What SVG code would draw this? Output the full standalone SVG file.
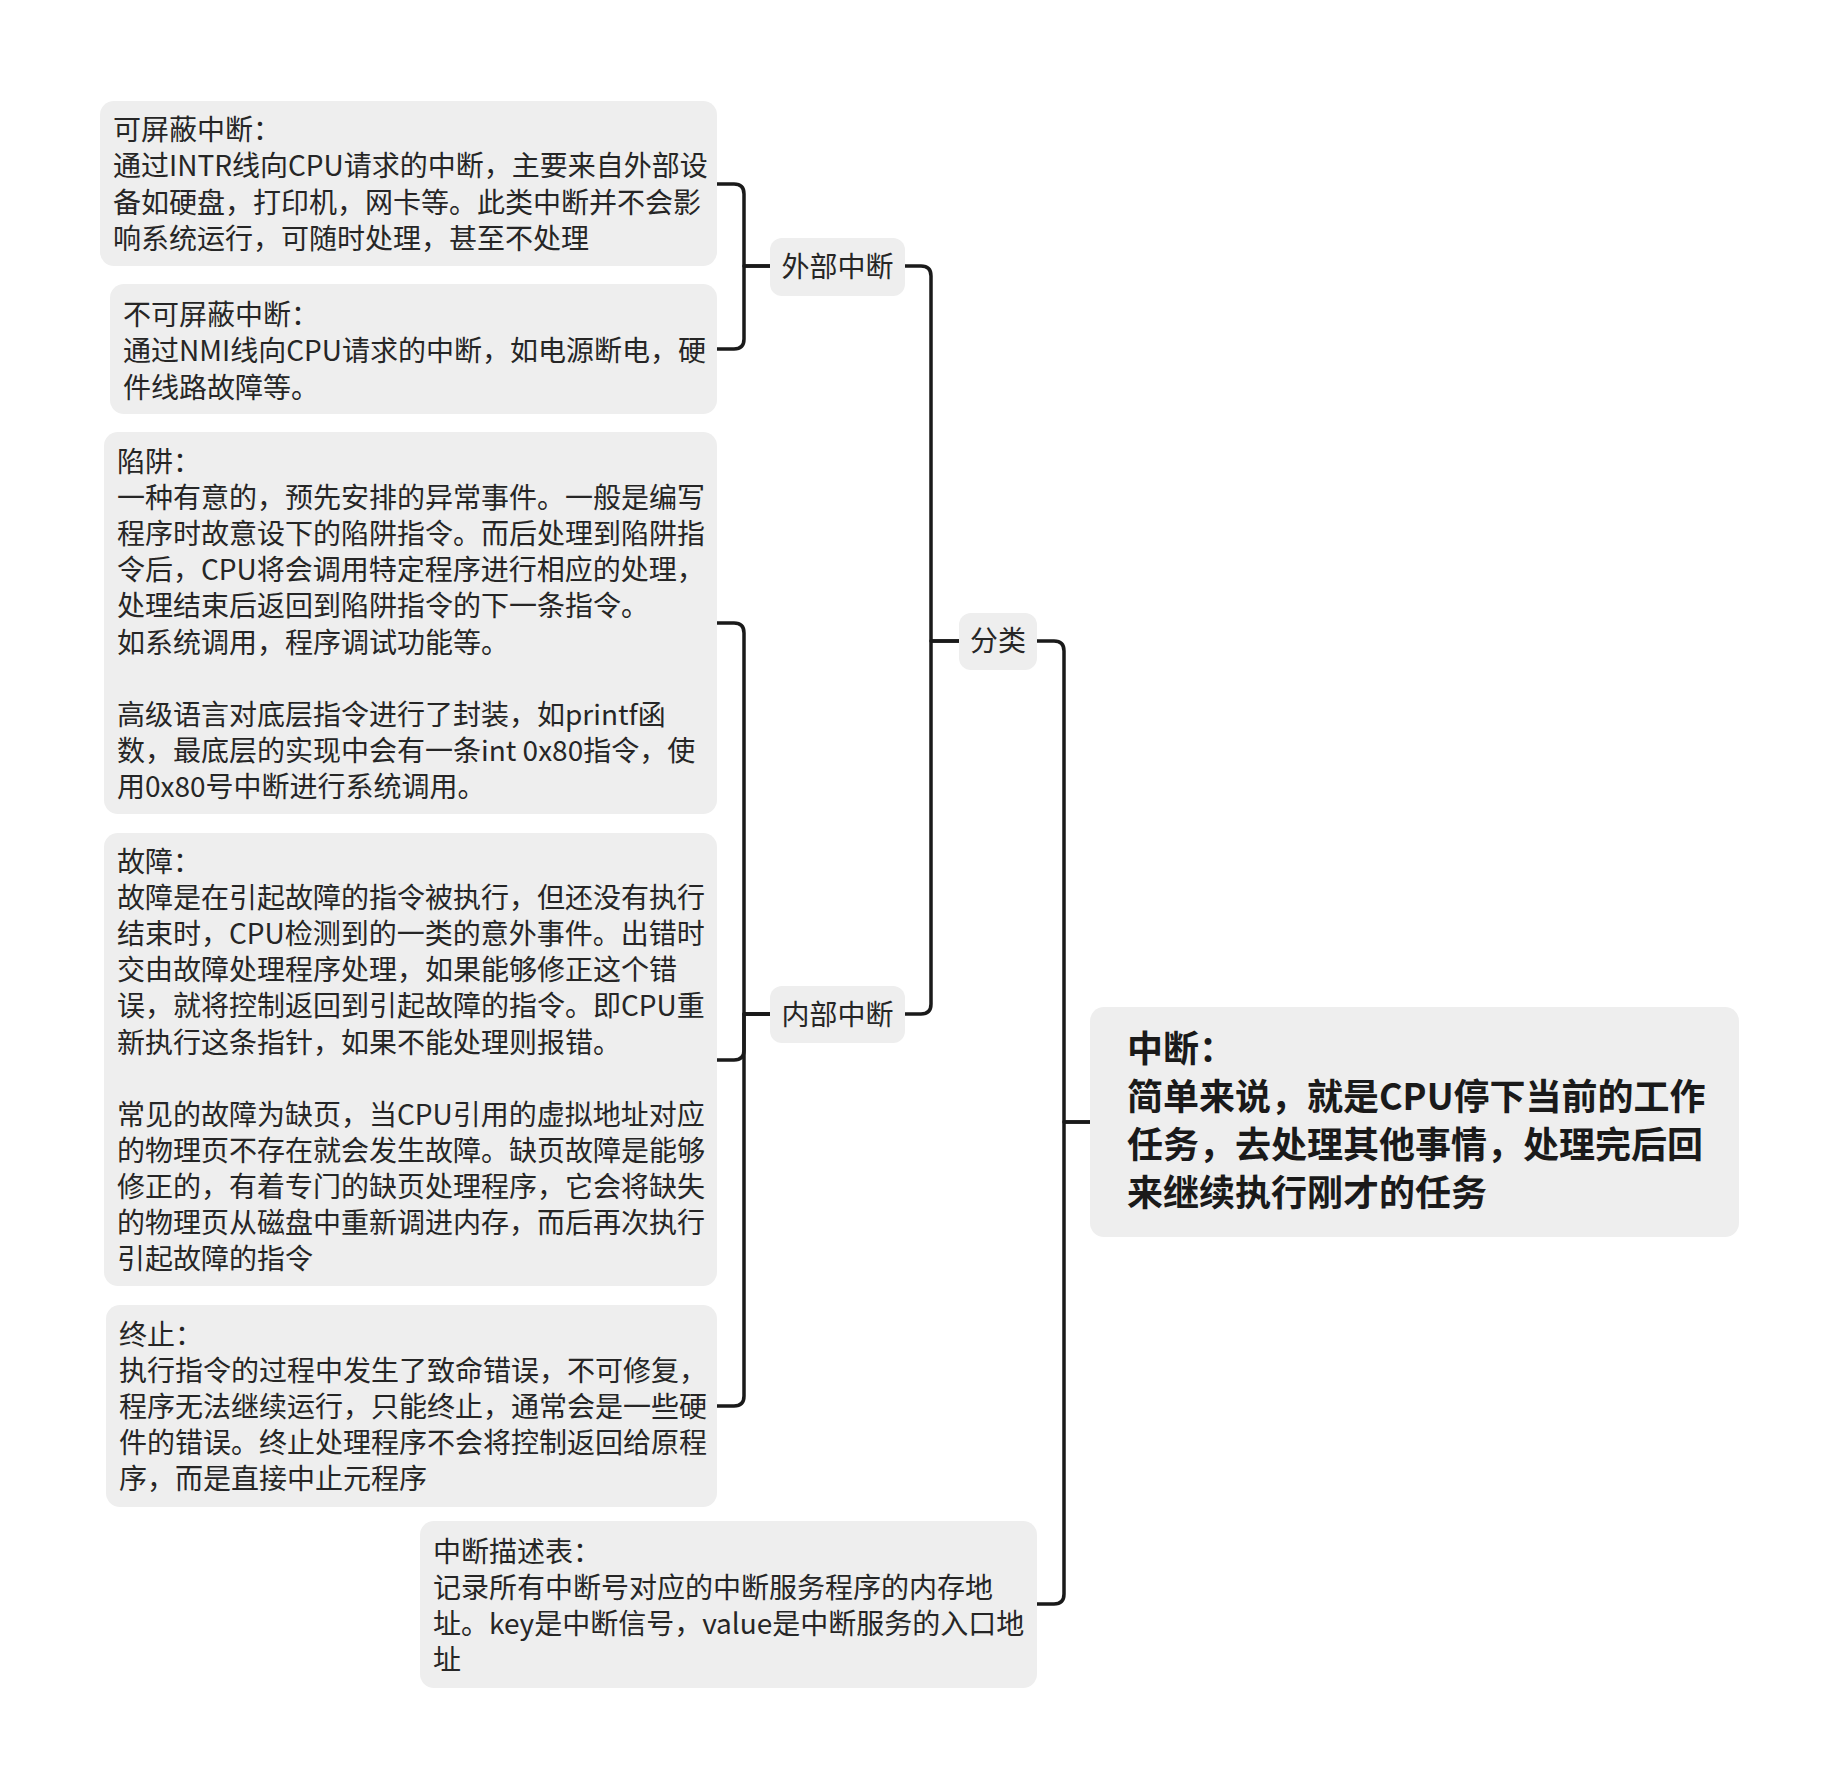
<svg xmlns="http://www.w3.org/2000/svg" width="1840" height="1788" viewBox="0 0 1840 1788">
<style>
.box{fill:#eeeeee;}
.t{font-family:"Noto Sans CJK SC","Noto Sans",sans-serif;font-size:28px;fill:#262626;}
.root{font-family:"Noto Sans CJK SC","Noto Sans",sans-serif;font-size:36px;font-weight:bold;fill:#1a1a1a;}
.c{fill:none;stroke:#1a1a1a;stroke-width:3.5;stroke-linecap:round;stroke-linejoin:round;}
</style>
<rect width="1840" height="1788" fill="#ffffff"/>
<g id="connectors">
<path class="c" d="M1090 1122 H1064 V651 Q1064 641 1054 641 H1037"/>
<path class="c" d="M1090 1122 H1064 V1594 Q1064 1604 1054 1604 H1037"/>
<path class="c" d="M959 641 H931 V276 Q931 266 921 266 H905"/>
<path class="c" d="M959 641 H931 V1004 Q931 1014 921 1014 H905"/>
<path class="c" d="M770 266 H744 V194 Q744 184 734 184 H717"/>
<path class="c" d="M770 266 H744 V339 Q744 349 734 349 H717"/>
<path class="c" d="M770 1014 H744 V633 Q744 623 734 623 H717"/>
<path class="c" d="M770 1014 H744 V1050 Q744 1060 734 1060 H717"/>
<path class="c" d="M770 1014 H744 V1396 Q744 1406 734 1406 H717"/>
</g>
<g id="root">
<rect class="box" x="1090" y="1007" width="649" height="230" rx="14"/>
<text class="root" x="1127"><tspan x="1127" y="1062">中断：</tspan><tspan x="1127" y="1110">简单来说，就是CPU停下当前的工作</tspan><tspan x="1127" y="1158">任务，去处理其他事情，处理完后回</tspan><tspan x="1127" y="1206">来继续执行刚才的任务</tspan></text>
</g>
<g id="fenlei">
<rect class="box" x="959" y="613" width="78" height="57" rx="12"/>
<text class="t" x="998" y="651" text-anchor="middle">分类</text>
</g>
<g id="waibu">
<rect class="box" x="770" y="238" width="135" height="58" rx="12"/>
<text class="t" x="837.5" y="277" text-anchor="middle">外部中断</text>
</g>
<g id="neibu">
<rect class="box" x="770" y="986" width="135" height="57" rx="12"/>
<text class="t" x="837.5" y="1025" text-anchor="middle">内部中断</text>
</g>
<g id="kepingbi">
<rect class="box" x="100" y="101" width="617" height="165" rx="14"/>
<text class="t"><tspan x="113" y="140">可屏蔽中断：</tspan><tspan x="113" y="176.3">通过INTR线向CPU请求的中断，主要来自外部设</tspan><tspan x="113" y="212.6">备如硬盘，打印机，网卡等。此类中断并不会影</tspan><tspan x="113" y="248.9">响系统运行，可随时处理，甚至不处理</tspan></text>
</g>
<g id="bukepingbi">
<rect class="box" x="110" y="284" width="607" height="130" rx="14"/>
<text class="t"><tspan x="123" y="325">不可屏蔽中断：</tspan><tspan x="123" y="361.3">通过NMI线向CPU请求的中断，如电源断电，硬</tspan><tspan x="123" y="397.6">件线路故障等。</tspan></text>
</g>
<g id="xianjing">
<rect class="box" x="104" y="432" width="613" height="382" rx="14"/>
<text class="t"><tspan x="117" y="472">陷阱：</tspan><tspan x="117" y="508.1">一种有意的，预先安排的异常事件。一般是编写</tspan><tspan x="117" y="544.2">程序时故意设下的陷阱指令。而后处理到陷阱指</tspan><tspan x="117" y="580.3">令后，CPU将会调用特定程序进行相应的处理，</tspan><tspan x="117" y="616.4">处理结束后返回到陷阱指令的下一条指令。</tspan><tspan x="117" y="652.5">如系统调用，程序调试功能等。</tspan><tspan x="117" y="724.7">高级语言对底层指令进行了封装，如printf函</tspan><tspan x="117" y="760.8">数，最底层的实现中会有一条int 0x80指令，使</tspan><tspan x="117" y="796.9">用0x80号中断进行系统调用。</tspan></text>
</g>
<g id="guzhang">
<rect class="box" x="104" y="833" width="613" height="453" rx="14"/>
<text class="t"><tspan x="117" y="872">故障：</tspan><tspan x="117" y="908.1">故障是在引起故障的指令被执行，但还没有执行</tspan><tspan x="117" y="944.2">结束时，CPU检测到的一类的意外事件。出错时</tspan><tspan x="117" y="980.3">交由故障处理程序处理，如果能够修正这个错</tspan><tspan x="117" y="1016.4">误，就将控制返回到引起故障的指令。即CPU重</tspan><tspan x="117" y="1052.5">新执行这条指针，如果不能处理则报错。</tspan><tspan x="117" y="1124.7">常见的故障为缺页，当CPU引用的虚拟地址对应</tspan><tspan x="117" y="1160.8">的物理页不存在就会发生故障。缺页故障是能够</tspan><tspan x="117" y="1196.9">修正的，有着专门的缺页处理程序，它会将缺失</tspan><tspan x="117" y="1233">的物理页从磁盘中重新调进内存，而后再次执行</tspan><tspan x="117" y="1269.1">引起故障的指令</tspan></text>
</g>
<g id="zhongzhi">
<rect class="box" x="106" y="1305" width="611" height="202" rx="14"/>
<text class="t"><tspan x="119" y="1345">终止：</tspan><tspan x="119" y="1381.1">执行指令的过程中发生了致命错误，不可修复，</tspan><tspan x="119" y="1417.2">程序无法继续运行，只能终止，通常会是一些硬</tspan><tspan x="119" y="1453.3">件的错误。终止处理程序不会将控制返回给原程</tspan><tspan x="119" y="1489.4">序，而是直接中止元程序</tspan></text>
</g>
<g id="miaoshubiao">
<rect class="box" x="420" y="1521" width="617" height="167" rx="14"/>
<text class="t"><tspan x="433" y="1562">中断描述表：</tspan><tspan x="433" y="1598.1">记录所有中断号对应的中断服务程序的内存地</tspan><tspan x="433" y="1634.2">址。key是中断信号，value是中断服务的入口地</tspan><tspan x="433" y="1670.3">址</tspan></text>
</g>
</svg>
